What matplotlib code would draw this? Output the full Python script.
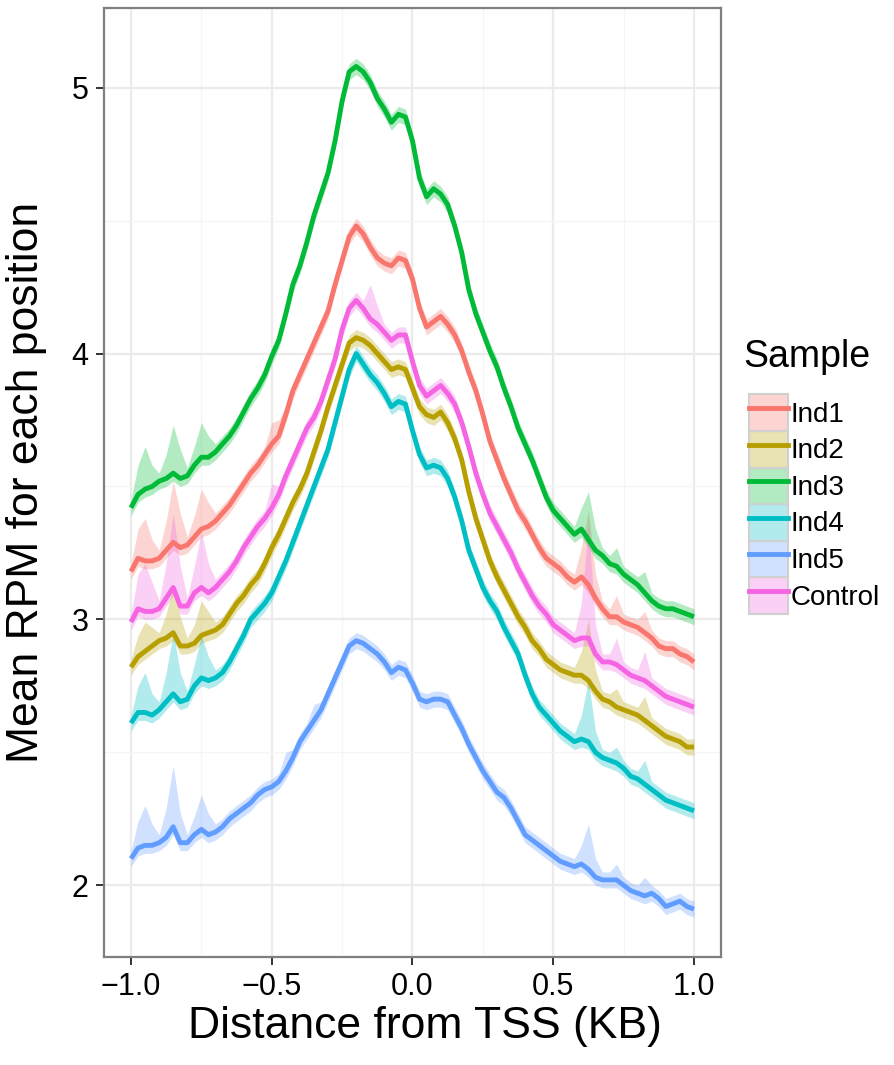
import numpy as np
import matplotlib
matplotlib.use("Agg")
import matplotlib.pyplot as plt
from matplotlib.patches import Patch
from matplotlib.lines import Line2D

plt.rcParams["font.family"] = ["Liberation Sans", "DejaVu Sans"]

# distance from TSS (kb), one point every 25 bp
dist = np.round(np.arange(-1.0, 1.0001, 0.025), 3)

ind1 = [3.18, 3.23, 3.22, 3.22, 3.23, 3.26, 3.29, 3.27, 3.28, 3.31, 3.34, 3.35, 3.37, 3.40,
        3.43, 3.47, 3.51, 3.55, 3.58, 3.62, 3.66, 3.69, 3.77, 3.86, 3.92, 3.98, 4.04, 4.10,
        4.16, 4.26, 4.35, 4.44, 4.48, 4.45, 4.40, 4.36, 4.34, 4.33, 4.36, 4.35, 4.28, 4.17,
        4.10, 4.12, 4.14, 4.11, 4.07, 4.01, 3.93, 3.86, 3.77, 3.67, 3.60, 3.53, 3.47, 3.41,
        3.37, 3.32, 3.27, 3.23, 3.21, 3.19, 3.16, 3.14, 3.16, 3.13, 3.08, 3.04, 3.01, 3.01,
        2.99, 2.98, 2.97, 2.95, 2.93, 2.90, 2.89, 2.89, 2.87, 2.86, 2.84]
ind2 = [2.82, 2.86, 2.88, 2.90, 2.92, 2.93, 2.95, 2.90, 2.90, 2.91, 2.94, 2.95, 2.96, 2.98,
        3.02, 3.06, 3.09, 3.13, 3.16, 3.21, 3.27, 3.32, 3.38, 3.44, 3.49, 3.55, 3.63, 3.71,
        3.80, 3.88, 3.96, 4.04, 4.06, 4.05, 4.03, 4.00, 3.97, 3.94, 3.95, 3.94, 3.87, 3.80,
        3.77, 3.76, 3.78, 3.74, 3.68, 3.60, 3.48, 3.38, 3.30, 3.22, 3.16, 3.11, 3.06, 3.01,
        2.97, 2.92, 2.89, 2.85, 2.83, 2.81, 2.80, 2.79, 2.79, 2.77, 2.73, 2.70, 2.69, 2.67,
        2.66, 2.65, 2.64, 2.62, 2.60, 2.58, 2.56, 2.55, 2.54, 2.52, 2.52]
ind3 = [3.42, 3.47, 3.49, 3.50, 3.52, 3.53, 3.55, 3.53, 3.54, 3.58, 3.61, 3.61, 3.63, 3.66,
        3.69, 3.73, 3.78, 3.83, 3.87, 3.92, 3.99, 4.05, 4.15, 4.26, 4.33, 4.42, 4.52, 4.60,
        4.68, 4.80, 4.95, 5.06, 5.08, 5.06, 5.02, 4.96, 4.92, 4.87, 4.90, 4.89, 4.80, 4.66,
        4.59, 4.62, 4.60, 4.56, 4.48, 4.38, 4.24, 4.15, 4.08, 4.01, 3.95, 3.87, 3.80, 3.72,
        3.66, 3.60, 3.53, 3.46, 3.41, 3.38, 3.35, 3.32, 3.34, 3.30, 3.26, 3.24, 3.21, 3.20,
        3.17, 3.15, 3.13, 3.10, 3.07, 3.05, 3.04, 3.04, 3.03, 3.02, 3.01]
ind4 = [2.61, 2.65, 2.65, 2.64, 2.66, 2.69, 2.72, 2.69, 2.70, 2.75, 2.78, 2.77, 2.78, 2.80,
        2.84, 2.89, 2.94, 3.00, 3.03, 3.06, 3.10, 3.16, 3.22, 3.29, 3.36, 3.43, 3.50, 3.57,
        3.64, 3.74, 3.84, 3.94, 4.00, 3.96, 3.92, 3.89, 3.85, 3.80, 3.82, 3.81, 3.71, 3.62,
        3.57, 3.58, 3.57, 3.53, 3.46, 3.37, 3.26, 3.19, 3.12, 3.07, 3.03, 2.97, 2.92, 2.87,
        2.79, 2.72, 2.67, 2.64, 2.61, 2.58, 2.56, 2.54, 2.55, 2.54, 2.50, 2.48, 2.47, 2.46,
        2.44, 2.41, 2.40, 2.38, 2.36, 2.34, 2.32, 2.31, 2.30, 2.29, 2.28]
ind5 = [2.10, 2.14, 2.15, 2.15, 2.16, 2.18, 2.22, 2.16, 2.16, 2.19, 2.21, 2.19, 2.20, 2.22,
        2.25, 2.27, 2.29, 2.31, 2.34, 2.36, 2.37, 2.39, 2.43, 2.48, 2.54, 2.58, 2.62, 2.66,
        2.72, 2.78, 2.84, 2.90, 2.92, 2.91, 2.89, 2.87, 2.84, 2.80, 2.82, 2.81, 2.76, 2.70,
        2.69, 2.70, 2.70, 2.69, 2.64, 2.59, 2.53, 2.48, 2.43, 2.39, 2.35, 2.33, 2.29, 2.24,
        2.19, 2.17, 2.15, 2.13, 2.11, 2.09, 2.08, 2.07, 2.08, 2.06, 2.03, 2.02, 2.02, 2.02,
        2.00, 1.98, 1.97, 1.96, 1.97, 1.95, 1.92, 1.93, 1.94, 1.92, 1.91]
control = [2.99, 3.04, 3.03, 3.03, 3.04, 3.08, 3.12, 3.05, 3.05, 3.10, 3.12, 3.10, 3.12, 3.15,
           3.18, 3.22, 3.27, 3.31, 3.35, 3.38, 3.42, 3.47, 3.54, 3.60, 3.66, 3.72, 3.76, 3.82,
           3.90, 3.98, 4.09, 4.17, 4.20, 4.17, 4.13, 4.11, 4.08, 4.05, 4.07, 4.07, 3.97, 3.88,
           3.84, 3.86, 3.88, 3.85, 3.81, 3.74, 3.65, 3.55, 3.47, 3.40, 3.35, 3.30, 3.25, 3.19,
           3.14, 3.09, 3.05, 3.02, 2.98, 2.96, 2.94, 2.92, 2.93, 2.93, 2.87, 2.84, 2.84, 2.83,
           2.81, 2.79, 2.78, 2.77, 2.75, 2.73, 2.71, 2.70, 2.69, 2.68, 2.67]

# extra height of the upper ribbon edge where the signal is noisy
ind1_spikes = {-0.975: 0.08, -0.95: 0.13, -0.925: 0.05, -0.875: 0.08, -0.85: 0.20, -0.825: 0.10,
               -0.775: 0.05, -0.75: 0.12, -0.725: 0.06, -0.5: 0.05, -0.475: 0.03,
               0.6: 0.08, 0.625: 0.25, 0.65: 0.06, 0.725: 0.05, 0.825: 0.05}
ind2_spikes = {-0.975: 0.05, -0.95: 0.08, -0.925: 0.04, -0.875: 0.06, -0.85: 0.15, -0.825: 0.08,
               -0.775: 0.04, -0.75: 0.10, -0.725: 0.05, 0.6: 0.06, 0.625: 0.20, 0.65: 0.05,
               0.725: 0.04, 0.825: 0.06}
ind3_spikes = {-0.975: 0.08, -0.95: 0.13, -0.925: 0.05, -0.875: 0.06, -0.85: 0.15, -0.825: 0.08,
               -0.775: 0.04, -0.75: 0.10, -0.725: 0.05, 0.6: 0.05, 0.625: 0.15, 0.65: 0.05,
               0.725: 0.04, 0.825: 0.05}
ind4_spikes = {-0.975: 0.07, -0.95: 0.12, -0.925: 0.05, -0.875: 0.08, -0.85: 0.20, -0.825: 0.08,
               -0.775: 0.05, -0.75: 0.13, -0.725: 0.06, 0.6: 0.06, 0.625: 0.20, 0.65: 0.05,
               0.725: 0.03, 0.825: 0.06}
ind5_spikes = {-0.975: 0.07, -0.95: 0.12, -0.925: 0.05, -0.875: 0.08, -0.85: 0.20, -0.825: 0.08,
               -0.775: 0.04, -0.75: 0.10, -0.725: 0.05, -0.45: 0.04, -0.35: 0.03,
               0.6: 0.04, 0.625: 0.14, 0.65: 0.04, 0.725: 0.03, 0.825: 0.04}
control_spikes = {-0.975: 0.10, -0.95: 0.15, -0.925: 0.08, -0.875: 0.10, -0.85: 0.25, -0.825: 0.12,
                  -0.775: 0.07, -0.75: 0.18, -0.725: 0.08, -0.5: 0.06, -0.15: 0.10, -0.125: 0.04,
                  0.6: 0.10, 0.625: 0.40, 0.65: 0.08, 0.725: 0.07, 0.825: 0.08}

samples = ["Ind1", "Ind2", "Ind3", "Ind4", "Ind5", "Control"]
series = [ind1, ind2, ind3, ind4, ind5, control]
spikes = [ind1_spikes, ind2_spikes, ind3_spikes, ind4_spikes, ind5_spikes, control_spikes]
colors = ["#F8766D", "#B79F00", "#00BA38", "#00BFC4", "#619CFF", "#F564E3"]

band = 0.03

fig = plt.figure(figsize=(8.94, 10.65), dpi=100)
ax = fig.add_axes([0.1163, 0.1014, 0.6902, 0.8911])

# ggplot-like panel
ax.set_facecolor("white")
for s in ax.spines.values():
    s.set_color("#7f7f7f")
    s.set_linewidth(1.6)
ax.set_xticks([-1.0, -0.5, 0.0, 0.5, 1.0])
ax.set_xticks([-0.75, -0.25, 0.25, 0.75], minor=True)
ax.set_yticks([2, 3, 4, 5])
ax.set_yticks([2.5, 3.5, 4.5], minor=True)
ax.grid(which="major", color="#ebebeb", linewidth=1.6)
ax.grid(which="minor", color="#f5f5f5", linewidth=1.0)
ax.set_axisbelow(True)

for name, y, sp, col in zip(samples, series, spikes, colors):
    y = np.array(y)
    upper = y + band + np.array([sp.get(float(v), 0.0) for v in dist])
    lower = y - band
    ax.fill_between(dist, lower, upper, color=col, alpha=0.3, linewidth=0)
    ax.plot(dist, y, color=col, linewidth=3.5, solid_capstyle="butt")

ax.set_xlim(-1.096, 1.096)
ax.set_ylim(1.73, 5.30)
ax.set_xticklabels(["\u22121.0", "\u22120.5", "0.0", "0.5", "1.0"])
ax.tick_params(which="major", direction="out", length=6, width=1.4, color="#333333",
               labelsize=22, labelcolor="black", pad=5)
ax.tick_params(which="minor", length=0)

ax.set_xlabel("Distance from TSS (KB)", fontsize=32, labelpad=10)
ax.xaxis.set_label_coords(0.52, -0.052, transform=ax.transAxes)
ax.xaxis.label.set_va("top")
ax.set_ylabel("Mean RPM for each position", fontsize=32, labelpad=18)

# legend: title as separate text, keys stacked below
fig.text(0.832, 0.665, "Sample", fontsize=27, ha="left", va="center")
handles = []
for col in colors:
    handles.append((Patch(facecolor=matplotlib.colors.to_rgba(col, 0.3), edgecolor="#d0d0d0",
                          linewidth=1.5),
                    Line2D([], [], color=col, linewidth=3.5)))
leg = fig.legend(handles, samples, loc="upper left", bbox_to_anchor=(0.816, 0.648),
                 frameon=False, fontsize=20,
                 handlelength=1.4, handleheight=1.65, labelspacing=0.0,
                 handletextpad=0.1, borderpad=0.2)

fig.savefig("out.png", dpi=100, facecolor="white")
